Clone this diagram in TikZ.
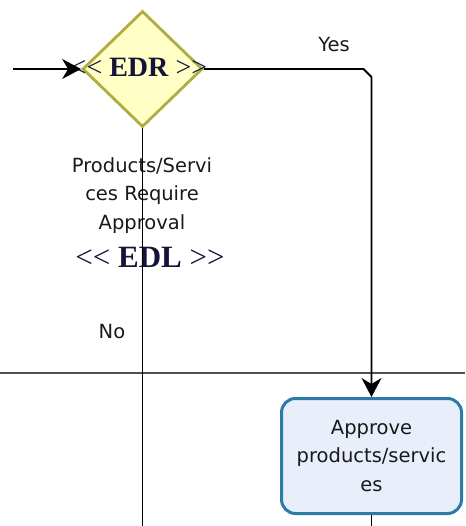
\documentclass[tikz,border=0pt]{standalone}
\usepackage{fontspec}
\setmainfont{DejaVu Sans}
\newfontfamily\edrfont{Liberation Serif}
\usetikzlibrary{arrows.meta,shapes.geometric}
\definecolor{dfill}{HTML}{FFFFC6}
\definecolor{dline}{HTML}{AEAE40}
\definecolor{bfill}{HTML}{E9EEFB}
\definecolor{bline}{HTML}{2B7BA6}
\definecolor{tnavy}{HTML}{14143A}
\definecolor{lanegray}{HTML}{505050}
\begin{document}
\begin{tikzpicture}[x=1pt,y=-1pt,
  conn/.style={line width=1.8pt, draw=black},
  arr/.style={-{Stealth[length=19pt,width=20pt,inset=6pt]}},
  lab/.style={font=\fontsize{19.5}{28.5}\selectfont, text=black!90, inner sep=0pt, align=center},
  decision/.style={diamond, draw=dline, fill=dfill, line width=2.8pt, minimum width=120pt, minimum height=116pt, inner sep=0pt},
  task/.style={draw=bline, fill=bfill, line width=3pt, rounded corners=14pt, minimum width=180pt, minimum height=115pt, inner sep=0pt, align=center, font=\fontsize{19.5}{28.5}\selectfont, text=black!90},
  edr/.style={inner sep=0pt, text=tnavy},
  lane/.style={line width=1.4pt, draw=lanegray}]
\useasboundingbox (0,0) rectangle (465,526);
% lane divider
\coordinate (l1) at (0,373);
\coordinate (l2) at (465,373);
\draw[lane] (l1) -- (l2);
% decision
\node[decision] (d) at (142.5,69) {};
\node[edr, font=\edrfont\fontsize{28}{30}\selectfont] (dl) at (139,67) {<<\ \textbf{EDR}\ >>};
% texts
\node[lab] (q) at (142,195.4) {Products/Servi\\ces Require\\Approval};
\node[edr, font=\edrfont\fontsize{31}{34}\selectfont] (el) at (150,257.5) {<<\ \textbf{EDL}\ >>};
\node[lab] (yes) at (334,45) {Yes};
\node[lab] (no) at (112,332) {No};
% task
\node[task] (b) at (371.5,456) {Approve\\products/servic\\es};
% connectors
\coordinate (in) at (13,69);
\draw[conn,arr] (in) -- (d.west);
\coordinate (k1) at (363.5,69);
\coordinate (k2) at (371.5,77);
\draw[conn,arr] (d.east) -- (k1) -- (k2) -- (b.north);
\coordinate (dout) at (142.5,526);
\draw[conn] (d.south) -- (dout);
\coordinate (bout) at (371.5,526);
\draw[conn] (b.south) -- (bout);
\end{tikzpicture}
\end{document}
